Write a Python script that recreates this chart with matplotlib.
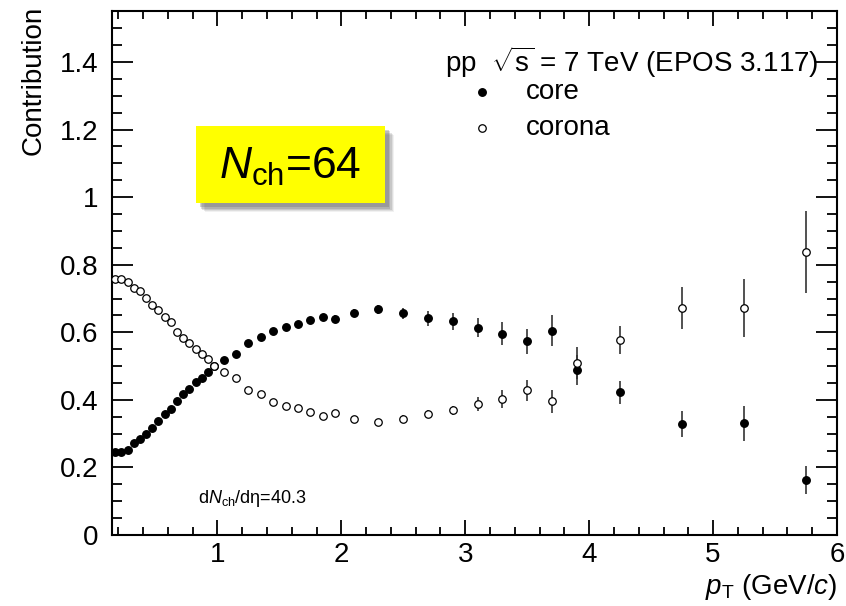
import matplotlib
matplotlib.use('Agg')
import matplotlib.pyplot as plt
from matplotlib.patches import Rectangle
from matplotlib.ticker import MultipleLocator, FuncFormatter

plt.rcParams['font.family'] = ['Liberation Sans', 'DejaVu Sans']
plt.rcParams['mathtext.fontset'] = 'custom'
plt.rcParams['mathtext.rm'] = 'Liberation Sans'
plt.rcParams['mathtext.it'] = 'Liberation Sans:italic'

# pT bin centres (GeV/c)
pt = [0.175, 0.225, 0.275, 0.325, 0.375, 0.425, 0.475, 0.525, 0.575, 0.625,
      0.675, 0.725, 0.775, 0.825, 0.875, 0.925, 0.975,
      1.05, 1.15, 1.25, 1.35, 1.45, 1.55, 1.65, 1.75, 1.85, 1.95,
      2.1, 2.3, 2.5, 2.7, 2.9, 3.1, 3.3, 3.5, 3.7, 3.9,
      4.25, 4.75, 5.25, 5.75]

core = [0.247, 0.247, 0.252, 0.272, 0.283, 0.298, 0.318, 0.336, 0.357, 0.372,
        0.398, 0.418, 0.431, 0.452, 0.464, 0.481, 0.501,
        0.518, 0.536, 0.569, 0.585, 0.605, 0.617, 0.625, 0.637, 0.645, 0.640,
        0.656, 0.668, 0.656, 0.642, 0.632, 0.614, 0.596, 0.573, 0.605, 0.489,
        0.423, 0.328, 0.330, 0.162]
core_err = [0.003, 0.003, 0.003, 0.003, 0.003, 0.003, 0.003, 0.003, 0.003, 0.003,
            0.003, 0.003, 0.003, 0.003, 0.003, 0.003, 0.003,
            0.004, 0.004, 0.005, 0.005, 0.006, 0.006, 0.007, 0.008, 0.010, 0.012,
            0.012, 0.014, 0.016, 0.022, 0.025, 0.028, 0.034, 0.038, 0.045, 0.045,
            0.034, 0.039, 0.053, 0.042]

corona = [0.757, 0.757, 0.750, 0.730, 0.721, 0.701, 0.681, 0.666, 0.645, 0.629,
          0.602, 0.584, 0.568, 0.550, 0.536, 0.520, 0.501,
          0.481, 0.464, 0.429, 0.417, 0.395, 0.383, 0.375, 0.365, 0.353, 0.362,
          0.344, 0.333, 0.343, 0.359, 0.369, 0.387, 0.403, 0.428, 0.396, 0.510,
          0.577, 0.672, 0.672, 0.838]
corona_err = [0.003, 0.003, 0.003, 0.003, 0.003, 0.003, 0.003, 0.003, 0.003, 0.003,
              0.003, 0.003, 0.003, 0.003, 0.003, 0.003, 0.003,
              0.003, 0.003, 0.004, 0.004, 0.004, 0.005, 0.005, 0.005, 0.006, 0.007,
              0.008, 0.010, 0.011, 0.012, 0.014, 0.021, 0.026, 0.031, 0.034, 0.047,
              0.041, 0.062, 0.085, 0.121]

fig = plt.figure(figsize=(8.46, 6.06), dpi=100)
ax = fig.add_axes([0.1324, 0.1172, 0.8570, 0.8646])

ax.errorbar(pt, core, yerr=core_err, fmt='o', color='black', ecolor='#333333',
            elinewidth=1.2, capsize=0, markersize=5.4, zorder=3)
ax.errorbar(pt, corona, yerr=corona_err, fmt='o', color='black', ecolor='#333333',
            mfc='white', mec='black', mew=0.9, elinewidth=1.2, capsize=0,
            markersize=5.4, zorder=3)

ax.set_xlim(0.15, 6.0)
ax.set_ylim(0, 1.551)

ax.xaxis.set_major_locator(MultipleLocator(1))
ax.xaxis.set_minor_locator(MultipleLocator(0.2))
ax.yaxis.set_major_locator(MultipleLocator(0.2))
ax.yaxis.set_minor_locator(MultipleLocator(0.05))
ax.yaxis.set_major_formatter(FuncFormatter(lambda v, p: '%g' % round(v, 2)))
ax.xaxis.set_major_formatter(FuncFormatter(lambda v, p: '%g' % v))

ax.tick_params(which='both', direction='in', top=True, right=True, labelsize=20, width=1.3)
ax.tick_params(axis='y', which='major', length=15, pad=10)
ax.tick_params(axis='y', which='minor', length=7.5)
ax.tick_params(axis='x', which='major', length=11, pad=5)
ax.tick_params(axis='x', which='minor', length=5.5)
for s in ax.spines.values():
    s.set_linewidth(1.5)

ax.set_ylabel('Contribution', fontsize=20, loc='top')
ax.yaxis.set_label_coords(-0.09, 1.01)
ax.set_xlabel(r'$p_{\rm T}$ (GeV/$c$)', fontsize=20, loc='right')
ax.xaxis.set_label_coords(1.0, -0.07)

# header and legend
ax.text(0.459, 0.903, r'pp  $\sqrt{\rm s}$ = 7 TeV (EPOS 3.117)', transform=ax.transAxes,
        fontsize=20, va='center', ha='left')
ax.plot([0.511], [0.845], 'o', color='black', markersize=5.4, transform=ax.transAxes)
ax.plot([0.511], [0.777], 'o', mfc='white', mec='black', mew=0.9, markersize=5.4,
        transform=ax.transAxes)
ax.text(0.571, 0.845, 'core', transform=ax.transAxes, fontsize=20, va='center')
ax.text(0.571, 0.777, 'corona', transform=ax.transAxes, fontsize=20, va='center')

# N_ch box with a soft shadow
bx, by, bw, bh = 0.1154, 0.6336, 0.261, 0.147
for i, a in enumerate([0.08, 0.12, 0.16, 0.20, 0.25]):
    off = 0.018 - i * 0.0025
    ax.add_patch(Rectangle((bx + off * 0.72, by - off), bw, bh, transform=ax.transAxes,
                           facecolor='#555555', edgecolor='none', alpha=a, zorder=4))
ax.add_patch(Rectangle((bx, by), bw, bh, transform=ax.transAxes,
                       facecolor='#ffff00', edgecolor='none', zorder=5))
ax.text(bx + bw / 2, by + bh / 2 - 0.005, r'$N_{\rm ch}$=64', transform=ax.transAxes,
        fontsize=32, ha='center', va='center', zorder=6)

ax.text(0.118, 0.07, 'd$N_{\\rm ch}$/dη=40.3', transform=ax.transAxes,
        fontsize=13, ha='left', va='center')

fig.savefig('out.png', dpi=100)
